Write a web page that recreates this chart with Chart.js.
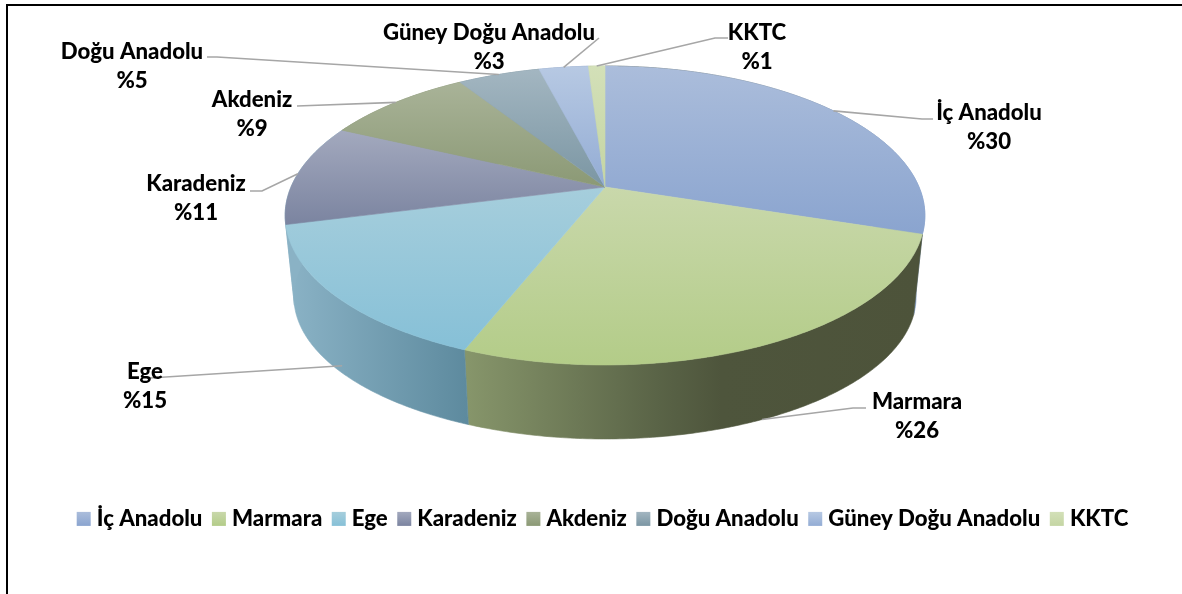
<!DOCTYPE html>
<html lang="tr">
<head>
<meta charset="utf-8">
<title>Bölgelere göre dağılım</title>
<script src="https://cdn.jsdelivr.net/npm/chart.js@4"></script>
<style>
  html, body { margin: 0; padding: 0; background: #fff; overflow: hidden; }
  #frame { position: absolute; left: 6px; top: 4px; right: 0; bottom: 0; border-top: 2px solid #000; border-left: 2px solid #000; }
  canvas { position: absolute; left: 0; top: 0; }
</style>
</head>
<body>
<div id="frame"></div>
<canvas id="chart" width="1182" height="594"></canvas>
<script>
const regions = ['İç Anadolu', 'Marmara', 'Ege', 'Karadeniz', 'Akdeniz', 'Doğu Anadolu', 'Güney Doğu Anadolu', 'KKTC'];
const shares = [30, 26, 15, 11, 9, 5, 3, 1];

const topFrom = ['#abbddb', '#c9d8ab', '#a6cedc', '#a3a9be', '#a9b398', '#a3b6c1', '#b7c9e3', '#d3e0b8'];
const topTo = ['#8aa4cf', '#b3cc88', '#86c0d7', '#7b84a0', '#8b9975', '#7b96a3', '#93acd4', '#c4d5a3'];
const sideFrom = ['#4d533a', '#87966b', '#8bb3c6', '#8ab2c5', '#7d8a68', '#6d8692', '#7e95bb', '#a9b98c'];
const sideTo = ['#7f9bc6', '#4d533a', '#5d8a9e', '#8ab2c5', '#7d8a68', '#6d8692', '#7e95bb', '#a9b98c'];

// label centre, then the elbow points of its leader line
const labelX = [989, 917, 145, 196, 252, 132, 489, 757];
const labelY = [113, 402, 372, 184, 100, 52, 33, 33];
const leaderBends = [
  [[922, 119], [933, 119]],
  [[853, 408], [866, 408]],
  [[150, 378]],
  [[262, 191], [250, 191]],
  [[297, 106]],
  [[217, 57], [207, 57]],
  [[599, 38]],
  [[715, 38], [728, 38]]
];
// which rim the leader starts from: 0 top edge, 1 bottom edge
const leaderRim = [0, 1, 0.9, 0, 0, 0, 0, 0];

const fontName = 'Lato';
const fontSize = 22.2;
const fontWeight = '900';

// camera for the tilted pie, a = perspective, k = half width, b/c = vertical map
const a = 0.1906;
const dx = 5;
const topRim = { k: 314, b: -108.4, c: 187 };
const bottomRim = { k: 305.4, b: -85.4, c: 269.9 };

function project(rim, cx, theta) {
  const u = Math.sin(theta), v = Math.cos(theta);
  const w = 1 + a * v;
  return [cx + dx + rim.k * u / w, (rim.b * v + rim.c) / w];
}

function arcPoints(rim, cx, from, to) {
  const n = Math.ceil(Math.abs(to - from) * 90) + 1;
  const pts = [];
  for (let i = 0; i <= n; i++) pts.push(project(rim, cx, from + (to - from) * i / n));
  return pts;
}

function fillPath(ctx, pts, style) {
  ctx.beginPath();
  pts.forEach((p, i) => i ? ctx.lineTo(p[0], p[1]) : ctx.moveTo(p[0], p[1]));
  ctx.closePath();
  ctx.fillStyle = style;
  ctx.strokeStyle = style;
  ctx.lineWidth = 0.6;
  ctx.fill();
  ctx.stroke();
}

const tiltedPie = {
  id: 'tiltedPie',
  beforeDatasetDraw(chart, args) {
    const ctx = chart.ctx;
    const arcs = args.meta.data;
    ctx.save();
    // rim first, the top face covers its far half
    arcs.forEach((arc, i) => {
      const t1 = arc.startAngle + Math.PI / 2, t2 = arc.endAngle + Math.PI / 2;
      const upper = arcPoints(topRim, arc.x, t1, t2);
      const lower = arcPoints(bottomRim, arc.x, t1, t2).reverse();
      const pts = upper.concat(lower);
      const xs = pts.map(p => p[0]);
      const g = ctx.createLinearGradient(Math.min(...xs), 0, Math.max(...xs), 0);
      g.addColorStop(0, sideFrom[i]);
      if (i === 1) {
        g.addColorStop(0.42, '#5a6447');
        g.addColorStop(0.56, '#4e553c');
      }
      g.addColorStop(1, sideTo[i]);
      fillPath(ctx, pts, g);
    });
    arcs.forEach((arc, i) => {
      const t1 = arc.startAngle + Math.PI / 2, t2 = arc.endAngle + Math.PI / 2;
      const rimPts = arcPoints(topRim, arc.x, t1, t2);
      const pts = [[arc.x + dx, topRim.c]].concat(rimPts);
      const ys = pts.map(p => p[1]);
      const g = ctx.createLinearGradient(0, Math.min(...ys), 0, Math.max(...ys));
      g.addColorStop(0, topFrom[i]);
      g.addColorStop(1, topTo[i]);
      fillPath(ctx, pts, g);
    });
    ctx.restore();
    return false;
  },
  afterDatasetsDraw(chart) {
    const ctx = chart.ctx;
    const arcs = chart.getDatasetMeta(0).data;
    ctx.save();
    ctx.lineWidth = 1.6;
    ctx.strokeStyle = '#a6a6a6';
    arcs.forEach((arc, i) => {
      const mid = (arc.startAngle + arc.endAngle) / 2 + Math.PI / 2;
      const p0 = project(topRim, arc.x, mid), p1 = project(bottomRim, arc.x, mid);
      const f = leaderRim[i];
      ctx.beginPath();
      ctx.moveTo(p0[0] + (p1[0] - p0[0]) * f, p0[1] + (p1[1] - p0[1]) * f);
      leaderBends[i].forEach(p => ctx.lineTo(p[0], p[1]));
      ctx.stroke();
    });
    ctx.fillStyle = '#000';
    ctx.font = `${fontWeight} ${fontSize}px ${fontName}`;
    ctx.textAlign = 'center';
    ctx.textBaseline = 'middle';
    regions.forEach((name, i) => {
      ctx.fillText(name, labelX[i], labelY[i]);
      ctx.fillText('%' + shares[i], labelX[i], labelY[i] + 29);
    });
    ctx.restore();
  },
  afterDraw(chart) {
    // legend swatches sit closer to their text than the legend's fixed gap allows
    const ctx = chart.ctx;
    chart.legend.legendHitBoxes.forEach((hit, i) => {
      const y = hit.top + hit.height / 2 - 7;
      const g = ctx.createLinearGradient(0, y, 0, y + 14);
      g.addColorStop(0, topFrom[i]);
      g.addColorStop(1, topTo[i]);
      ctx.fillStyle = g;
      ctx.fillRect(hit.left + 5, y, 14, 14);
    });
  }
};

const canvas = document.getElementById('chart');
new Chart(canvas, {
  type: 'pie',
  data: {
    labels: regions,
    datasets: [{ data: shares, backgroundColor: topTo, borderWidth: 0 }]
  },
  options: {
    responsive: false,
    animation: false,
    layout: { padding: { left: 18, bottom: 54 } },
    plugins: {
      tooltip: { enabled: false },
      legend: {
        position: 'bottom',
        labels: {
          boxWidth: 14,
          boxHeight: 14,
          padding: 4.5,
          color: '#000',
          font: { family: fontName, size: fontSize, weight: fontWeight },
          generateLabels() {
            return regions.map((name, i) => ({ text: name, fillStyle: 'transparent', strokeStyle: 'transparent', lineWidth: 0, index: i }));
          }
        }
      }
    }
  },
  plugins: [tiltedPie]
});
</script>
</body>
</html>
